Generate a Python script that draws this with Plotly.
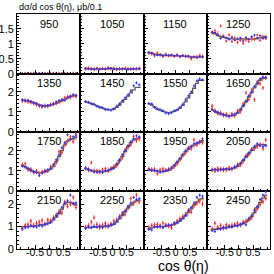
import plotly.graph_objects as go
from plotly.subplots import make_subplots

energies = [950, 1050, 1150, 1250, 1350, 1450, 1550, 1650,
            1750, 1850, 1950, 2050, 2150, 2250, 2350, 2450]

cos_centers = [-0.95, -0.85, -0.75, -0.65, -0.55, -0.45, -0.35, -0.25, -0.15, -0.05,
               0.05, 0.15, 0.25, 0.35, 0.45, 0.55, 0.65, 0.75, 0.85, 0.95]
cos_edges = [-1.0, -0.9, -0.8, -0.7, -0.6, -0.5, -0.4, -0.3, -0.2, -0.1, 0.0,
             0.1, 0.2, 0.3, 0.4, 0.5, 0.6, 0.7, 0.8, 0.9, 1.0]

model = {
    950: [0.01]*20,
    1050: [0.18,0.17,0.17,0.16,0.17,0.17,0.16,0.17,0.17,0.18,0.17,0.16,0.16,0.17,0.17,0.16,0.16,0.17,0.17,0.17],
    1150: [0.71,0.69,0.66,0.64,0.63,0.62,0.62,0.61,0.61,0.61,0.60,0.60,0.59,0.59,0.58,0.57,0.56,0.56,0.56,0.57],
    1250: [1.38,1.34,1.28,1.24,1.22,1.20,1.18,1.17,1.16,1.16,1.16,1.17,1.17,1.16,1.16,1.17,1.18,1.20,1.22,1.24],
    1350: [1.58,1.56,1.53,1.50,1.46,1.40,1.35,1.31,1.29,1.30,1.33,1.37,1.42,1.48,1.55,1.62,1.70,1.76,1.80,1.82],
    1450: [1.50,1.46,1.42,1.36,1.30,1.24,1.18,1.13,1.10,1.10,1.14,1.22,1.34,1.48,1.62,1.78,1.95,2.10,2.22,2.22],
    1550: [1.40,1.34,1.24,1.14,1.08,1.02,0.98,0.96,0.98,1.02,1.08,1.18,1.32,1.50,1.70,1.92,2.18,2.42,2.58,2.58],
    1650: [1.10,1.02,0.96,0.90,0.86,0.82,0.80,0.81,0.85,0.94,1.08,1.28,1.50,1.74,1.96,2.20,2.40,2.58,2.68,2.70],
    1750: [1.25,1.20,1.10,1.02,0.96,0.92,0.90,0.90,0.94,1.00,1.08,1.22,1.45,1.72,2.00,2.28,2.48,2.58,2.60,2.68],
    1850: [1.10,1.05,1.00,0.98,0.96,0.95,0.95,0.96,1.00,1.06,1.16,1.30,1.50,1.72,1.96,2.20,2.40,2.54,2.60,2.64],
    1950: [1.05,1.02,1.00,0.97,0.95,0.95,0.98,1.02,1.10,1.24,1.40,1.58,1.78,1.95,2.08,2.20,2.28,2.36,2.42,2.50],
    2050: [1.05,1.05,1.05,1.05,1.06,1.07,1.08,1.10,1.14,1.22,1.34,1.50,1.68,1.86,2.02,2.16,2.28,2.30,2.30,2.26],
    2150: [1.00,1.00,1.00,1.00,1.02,1.04,1.06,1.08,1.10,1.14,1.20,1.30,1.42,1.58,1.78,2.00,2.08,2.08,2.04,1.95],
    2250: [0.95,0.95,0.96,0.98,1.00,1.00,1.00,1.00,1.02,1.05,1.10,1.20,1.34,1.50,1.66,1.82,1.96,2.08,2.14,2.18],
    2350: [0.90,0.94,0.97,0.99,1.00,1.00,1.01,1.03,1.06,1.10,1.16,1.24,1.35,1.48,1.63,1.79,1.95,2.10,2.22,2.25],
    2450: [0.85,0.88,0.90,0.92,0.94,0.96,0.98,1.00,1.02,1.05,1.08,1.13,1.20,1.30,1.44,1.62,1.84,2.08,2.28,2.40],
}

blue = {
    950: [0.01,0.01,0.02,0.01,0.01,0.01,0.02,0.01,0.01,0.01,0.01,0.02,0.01,0.01,0.01,0.01,0.02,0.01,0.01,0.01],
    1050: [0.19,0.16,0.15,0.17,0.18,0.15,0.17,0.16,0.18,0.19,0.16,0.17,0.15,0.18,0.16,0.15,0.17,0.16,0.18,0.17],
    1150: [0.72,0.70,0.64,0.62,0.65,0.60,0.63,0.62,0.64,0.60,0.62,0.59,0.61,0.58,0.60,0.55,0.58,0.54,0.57,0.59],
    1250: [1.40,1.38,1.30,1.18,1.26,1.20,1.15,1.22,1.12,1.18,1.20,1.10,1.22,1.16,1.25,1.30,1.20,1.28,1.18,1.22],
    1350: [1.60,1.55,1.58,1.52,1.44,1.42,1.32,1.30,1.28,1.32,1.35,1.40,1.50,1.56,1.60,1.58,1.72,1.78,1.85,1.80],
    1450: [1.52,1.48,1.40,1.38,1.28,1.22,1.20,1.12,1.12,1.08,1.15,1.28,1.40,1.55,1.70,1.85,2.05,2.30,2.45,2.35],
    1550: [1.42,1.40,1.22,1.15,1.10,1.05,0.94,0.90,0.95,1.05,1.10,1.22,1.38,1.60,1.80,2.00,2.30,2.55,2.65,2.60],
    1650: [1.12,1.00,0.98,0.88,0.86,0.80,0.78,0.84,0.88,0.96,1.12,1.32,1.55,1.80,2.00,2.28,2.45,2.65,2.75,2.72],
    1750: [1.22,1.18,1.12,1.00,0.95,0.90,0.75,0.88,0.98,1.05,1.12,1.30,1.55,1.80,2.15,2.40,2.80,2.55,2.70,2.75],
    1850: [1.12,1.08,1.02,0.95,0.92,0.98,0.90,1.00,1.02,1.10,1.12,1.35,1.55,1.80,2.00,2.25,2.45,2.60,2.75,2.70],
    1950: [1.05,1.00,1.02,0.98,0.92,0.98,1.00,1.05,1.15,1.28,1.45,1.62,1.82,2.00,2.10,2.22,2.35,2.40,2.45,2.60],
    2050: [1.02,1.08,1.00,1.05,1.08,1.10,1.05,1.12,1.18,1.25,1.38,1.55,1.72,1.90,2.05,2.22,2.35,2.25,2.20,2.28],
    2150: [0.88,0.95,0.98,1.05,1.00,0.98,1.05,1.02,1.10,1.12,1.18,1.35,1.48,1.62,1.85,2.05,2.15,2.40,2.02,2.05],
    2250: [0.92,0.98,0.95,1.00,0.98,1.02,0.95,1.05,1.00,1.08,1.12,1.25,1.40,1.55,1.70,1.90,2.05,2.30,2.20,2.25],
    2350: [0.88,0.85,1.00,0.98,1.02,0.95,1.05,1.08,1.05,1.15,1.18,1.28,1.38,1.50,1.70,1.85,2.05,2.30,2.40,2.35],
    2450: [0.82,0.78,0.90,0.88,0.95,0.92,1.00,0.98,1.05,1.02,1.10,1.15,1.08,1.35,1.50,1.70,1.90,2.20,2.40,2.55],
}

red = {
    950: [0.01,0.02,0.01,0.01,0.02,0.01,0.01,0.01,0.02,0.01,0.01,0.01,0.02,0.01,0.01,0.02,0.01,0.01,0.02,0.01],
    1050: [0.16,0.20,0.18,0.14,0.19,0.16,0.18,0.15,0.21,0.17,0.19,0.14,0.18,0.15,0.19,0.17,0.15,0.18,0.16,0.19],
    1150: [0.70,0.66,0.60,0.70,0.64,0.58,0.66,0.60,0.63,0.58,0.64,0.57,0.62,0.60,0.57,0.50,0.55,0.58,0.62,0.56],
    1250: [1.36,1.45,1.32,1.60,1.25,1.10,1.30,1.08,1.20,1.05,1.12,1.02,1.15,1.08,1.22,1.15,1.30,1.12,1.25,1.18],
    1350: [1.55,1.58,1.50,1.48,1.42,1.36,1.30,1.25,1.30,1.28,1.36,1.38,1.45,1.50,1.58,1.70,1.75,1.72,1.82,1.78],
    1650: [1.30,1.05,0.92,0.95,0.82,0.88,0.76,0.90,0.80,1.05,1.00,1.40,1.95,1.62,2.10,1.60,2.50,2.40,2.20,2.68],
    1750: [1.30,1.35,1.05,1.08,0.92,0.98,0.85,0.95,1.00,0.98,1.20,1.28,1.40,1.95,1.90,2.35,2.50,2.70,2.45,2.85],
    1850: [1.15,1.02,1.40,0.95,1.00,0.92,1.05,1.10,0.98,1.12,1.20,1.25,1.45,1.65,2.05,2.15,2.30,2.72,2.50,2.60],
    1950: [1.10,1.05,1.08,0.85,1.05,1.10,1.02,1.08,1.12,1.20,1.35,1.55,1.75,1.90,2.15,2.10,2.55,2.30,2.45,2.40],
    2050: [1.05,0.98,1.12,1.10,1.02,1.05,1.15,1.08,1.20,1.30,1.28,1.45,1.75,1.80,2.08,2.10,2.20,2.32,2.10,2.55],
    2150: [0.92,1.05,1.10,1.25,1.05,1.15,1.20,1.28,1.12,1.30,1.25,1.40,1.50,1.65,1.60,2.10,1.90,2.00,2.30,1.85],
    2250: [0.98,1.05,1.20,1.40,1.10,0.95,1.05,1.15,1.02,1.12,1.25,1.30,1.45,1.60,1.55,1.85,2.25,2.05,2.40,2.10],
    2350: [0.95,1.05,1.08,1.10,1.00,1.15,1.05,1.02,0.95,1.12,1.25,1.35,1.45,1.55,1.72,1.65,1.95,2.05,2.15,2.00],
    2450: [0.90,1.15,0.95,1.05,0.92,1.08,1.02,1.05,1.10,1.15,1.05,1.20,1.25,1.30,1.40,1.75,1.80,2.00,2.10,2.25],
}

pink = {
    950: [0.01,0.01,0.01,0.02,0.01,0.01,0.01,0.02,0.01,0.01,0.02,0.01,0.01,0.01,0.02,0.01,0.01,0.01,0.01,0.02],
    1050: [0.17,0.18,0.16,0.18,0.15,0.18,0.17,0.19,0.16,0.18,0.15,0.18,0.17,0.16,0.18,0.16,0.18,0.15,0.17,0.16],
    1150: [0.68,0.70,0.65,0.66,0.61,0.64,0.60,0.63,0.59,0.62,0.61,0.58,0.60,0.57,0.59,0.56,0.58,0.55,0.57,0.55],
    1250: [1.42,1.35,1.40,1.28,1.30,1.22,1.18,1.25,1.15,1.12,1.20,1.15,1.10,1.18,1.12,1.24,1.18,1.25,1.20,1.28],
    1350: [1.57,1.53,1.55,1.46,1.48,1.38,1.36,1.28,1.32,1.30,1.32,1.40,1.40,1.52,1.58,1.66,1.68,1.80,1.78,1.84],
    1650: [1.20,1.08,0.90,0.92,0.88,0.85,0.82,0.78,0.90,0.98,1.15,1.25,1.45,1.80,1.90,2.25,2.35,2.60,2.62,2.75],
    1750: [1.28,1.15,1.08,0.98,0.90,0.95,0.88,0.92,0.90,1.02,1.10,1.18,1.50,1.65,2.05,2.20,2.40,2.62,2.55,2.60],
    1850: [1.08,1.10,0.98,1.05,0.95,0.92,1.00,0.95,1.08,1.02,1.20,1.28,1.52,1.68,1.90,2.18,2.35,2.48,2.62,2.55],
    1950: [1.02,1.08,0.95,1.00,1.00,0.92,1.05,1.00,1.08,1.22,1.38,1.55,1.72,1.92,2.02,2.25,2.20,2.30,2.38,2.45],
    2050: [1.08,1.02,1.05,1.00,1.10,1.02,1.12,1.06,1.12,1.18,1.32,1.48,1.65,1.82,1.98,2.12,2.25,2.28,2.35,2.22],
    2150: [0.95,1.02,1.00,1.10,1.08,1.02,1.10,1.15,1.08,1.20,1.28,1.32,1.55,1.70,1.72,1.95,2.02,2.12,1.98,2.00],
    2250: [0.95,1.00,1.02,1.08,1.00,1.05,1.08,0.98,1.10,1.02,1.15,1.22,1.38,1.45,1.72,1.78,1.92,2.00,2.12,2.15],
    2350: [0.92,0.98,1.02,1.05,1.08,1.00,1.10,1.05,1.10,1.15,1.20,1.30,1.40,1.52,1.60,1.80,1.90,2.02,2.10,2.18],
    2450: [0.88,0.92,0.98,0.95,1.00,1.02,0.98,1.08,1.05,1.10,1.12,1.18,1.22,1.35,1.48,1.60,1.78,1.98,2.15,2.30],
}

row1_ticks = [0, 0.5, 1, 1.5]
row1_ticktext = ["0", "0.5", "1", "1.5"]
rowN_ticks = [0, 1, 2]
rowN_ticktext = ["0", "1", "2"]
x_ticks = [-0.5, 0, 0.5]
x_ticktext = ["-0.5", "0", "0.5"]

y_ranges = [[0, 2.0], [0, 2.9], [0, 2.95], [0, 2.6]]

fig = make_subplots(rows=4, cols=4, horizontal_spacing=0, vertical_spacing=0,
                    row_heights=[60, 58, 59, 58.5])

for i, e in enumerate(energies):
    r, c = i // 4 + 1, i % 4 + 1
    ey = 0.05 if r == 1 else 0.1
    ex = 0.04
    if e in pink:
        fig.add_trace(go.Scatter(x=cos_centers, y=pink[e], mode="markers",
                                 marker=dict(size=1, color="#ffa8a8"),
                                 error_y=dict(type="constant", value=ey, color="#ffa8a8", thickness=1, width=0),
                                 error_x=dict(type="constant", value=ex, color="#ffa8a8", thickness=1, width=0),
                                 showlegend=False), row=r, col=c)
    fig.add_trace(go.Scatter(x=cos_edges, y=model[e] + model[e][-1:], mode="lines",
                             line=dict(shape="hv", color="#5a5a5a", width=1.3),
                             showlegend=False), row=r, col=c)
    if e in red:
        fig.add_trace(go.Scatter(x=cos_centers, y=red[e], mode="markers",
                                 marker=dict(size=1, color="#ff3030"),
                                 error_y=dict(type="constant", value=ey, color="#ff3030", thickness=1, width=0),
                                 error_x=dict(type="constant", value=ex, color="#ff3030", thickness=1, width=0),
                                 showlegend=False), row=r, col=c)
    fig.add_trace(go.Scatter(x=cos_centers, y=blue[e], mode="markers",
                             marker=dict(size=1, color="#3030ff"),
                             error_y=dict(type="constant", value=ey * 0.7, color="#3030ff", thickness=1, width=0),
                             error_x=dict(type="constant", value=ex, color="#3030ff", thickness=1, width=0),
                             showlegend=False), row=r, col=c)
    xref = "x domain" if i == 0 else f"x{i+1} domain"
    yref = "y domain" if i == 0 else f"y{i+1} domain"
    fig.add_annotation(text=str(e), xref=xref, yref=yref, x=0.5, y=1.0 - 9.5 / 59,
                       showarrow=False, xanchor="center", yanchor="middle",
                       font=dict(size=11, color="black", family="Liberation Sans, Arial"))

    fig.update_xaxes(range=[-1.14, 1.1], tickvals=x_ticks,
                     ticktext=x_ticktext,
                     showticklabels=(r == 4), tickangle=0,
                     tickfont=dict(size=10.5), ticklabelstandoff=-7,
                     ticks="inside", ticklen=4, tickcolor="black",
                     minor=dict(ticks="inside", ticklen=2, dtick=0.25, tickcolor="black", tick0=0),
                     showline=True, linecolor="black", linewidth=1, mirror=True,
                     showgrid=False, zeroline=False, automargin=False, row=r, col=c)
    if r == 1:
        tv, tt = row1_ticks, row1_ticktext
        mdt = 0.1
    else:
        tv, tt = rowN_ticks, rowN_ticktext
        mdt = 0.2
    fig.update_yaxes(range=y_ranges[r - 1], tickvals=tv,
                     ticktext=tt,
                     showticklabels=(c == 1), tickfont=dict(size=11),
                     ticks="inside", ticklen=4, tickcolor="black",
                     minor=dict(ticks="inside", ticklen=2, dtick=mdt, tickcolor="black", tick0=0),
                     showline=True, linecolor="black", linewidth=1, mirror=True,
                     showgrid=False, zeroline=False, automargin=False, row=r, col=c)

fig.add_annotation(text="dσ/d cos θ(η), μb/0.1", xref="paper", yref="paper",
                   x=0.0, y=1 + (14 - 6.7) / 235.5, xanchor="left", yanchor="middle",
                   showarrow=False, font=dict(size=9, color="black", family="Liberation Sans, Arial"))
fig.add_annotation(text="cos θ(η)", xref="paper", yref="paper",
                   x=(183 - 17) / 253, y=-(267 - 249.5) / 235.5, xanchor="center", yanchor="middle",
                   showarrow=False, font=dict(size=14, color="black", family="Liberation Sans, Arial"))

fig.update_layout(width=274, height=274, margin=dict(l=17, r=4, t=14, b=24.5),
                  plot_bgcolor="white", paper_bgcolor="white",
                  font=dict(family="Liberation Sans, Arial", size=11, color="black"))

fig.write_html("out.html", config={"displayModeBar": False},
               post_script="document.body.style.margin='0';document.body.style.padding='0';document.body.style.overflow='hidden';")
